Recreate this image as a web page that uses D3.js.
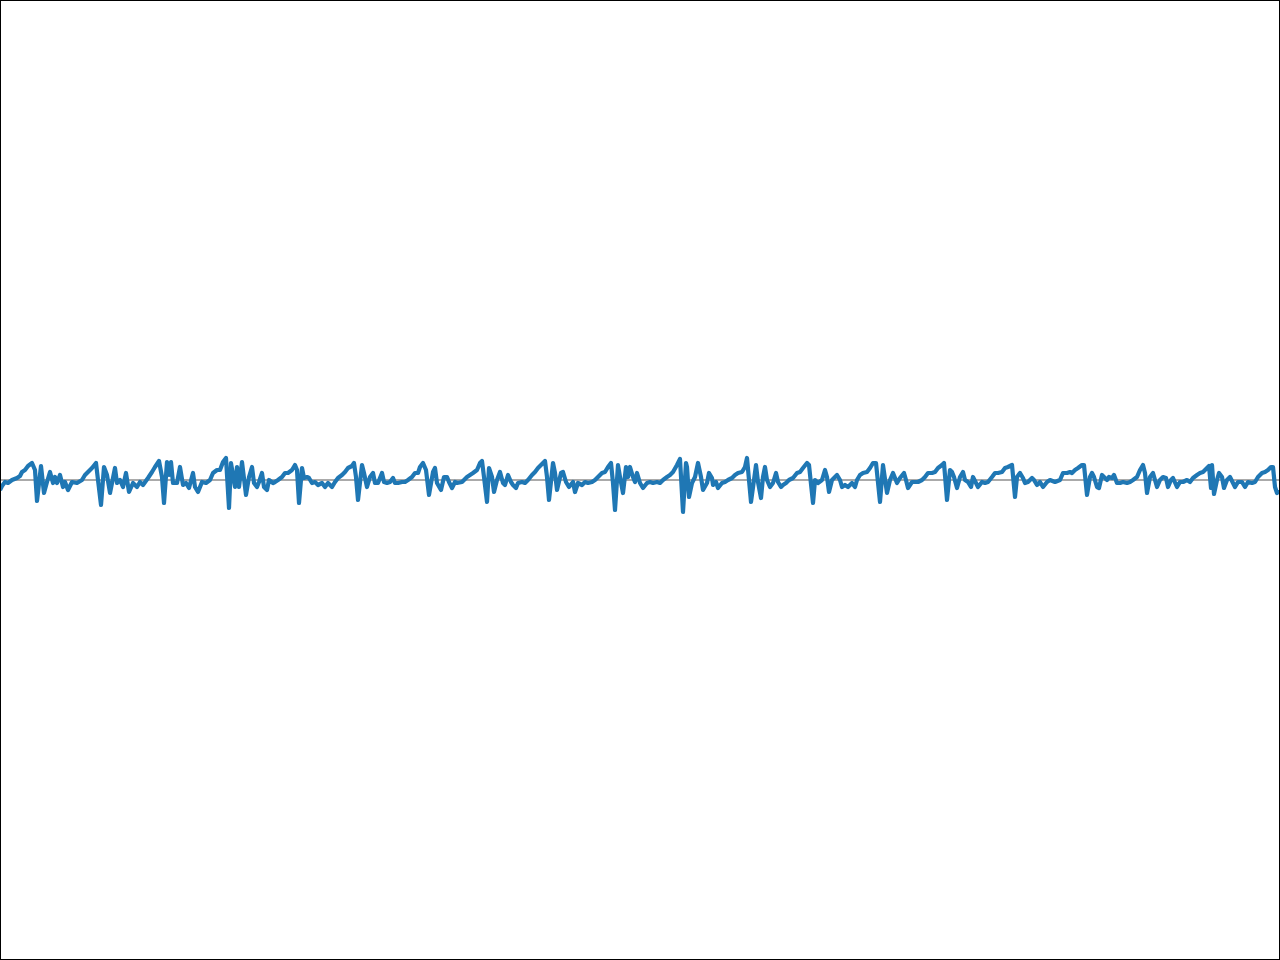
<!DOCTYPE html>
<html>
<head>
<meta charset="utf-8">
<script src="https://cdn.jsdelivr.net/npm/d3@7"></script>
<style>
html,body{margin:0;padding:0;background:#fff;}
svg{display:block;}
</style>
</head>
<body>
<script>
// sample positions (time index) and amplitudes
const seg1 = [[0,-10],[2,-6],[5,-2],[8,-3],[12,0],[17,2],[20,4],[22,8],[25,10],[28,14],[32,17],[35,10],[37,-21],[41,14],[44,-13],[47,-2],[50,8],[53,-3],[55,3],[57,-3],[60,5],[63,-7],[65,-2],[68,-10],[72,-2],[77,-3],[82,0],[85,5],[88,8],[92,12],[96,17],[98,0],[101,-25],[104,13],[107,5],[110,-13],[115,12],[117,-3],[120,0],[123,-7],[126,7],[129,-12],[133,-3],[137,-7],[140,-2],[143,-5],[148,2],[152,8],[155,13],[159,19],[162,3],[164,-23],[167,18],[169,5],[171,18],[173,-3],[177,-3],[180,13],[183,-5],[186,-3],[189,-8],[193,7],[195,-7],[198,-12],[202,-2],[206,-3]];
const seg2 = [[210,0],[213,7],[217,10],[220,10],[223,18],[226,22],[229,-28],[231,17],[235,-7],[237,13],[239,-7],[242,18],[246,-15],[249,3],[252,13],[254,-3],[257,-7],[259,-2],[262,7],[264,-7],[267,-10],[269,0],[273,-3],[275,-2],[278,0],[282,3],[285,7],[288,7],[292,10],[295,15],[297,10],[299,-23],[302,12],[304,2],[307,3],[309,2],[312,-3],[315,-2],[318,-5],[322,-3],[325,-7],[328,-3],[332,-7],[335,-2],[338,2],[342,5],[345,8],[348,12],[352,14],[354,17],[356,3],[358,-20],[362,15],[364,7],[367,-7],[370,3],[373,7],[375,-3],[378,-3],[382,7],[384,-2],[387,-3],[390,-2],[393,2],[395,-3],[398,-3],[402,-2],[405,-2],[408,0],[412,3],[415,7],[418,7]];
const seg3 = [[420,13],[423,17],[426,10],[429,-15],[433,8],[435,12],[437,-3],[441,-10],[444,3],[447,3],[449,-2],[452,-8],[455,-2],[457,-3],[462,-2],[467,3],[470,5],[473,7],[477,10],[480,17],[482,19],[484,3],[487,-22],[489,12],[492,3],[494,-12],[497,0],[500,8],[503,-3],[505,-5],[508,5],[511,-2],[513,-5],[516,-8],[518,-3],[522,-2],[525,-3],[528,0],[532,5],[535,8],[538,12],[542,16],[545,19],[547,3],[549,-20],[553,17],[555,7],[557,-10],[561,7],[563,8],[566,-2],[569,-7],[573,-2],[575,-12],[578,-3],[582,-5],[585,-2],[588,-3],[592,-2],[595,0],[598,3],[602,7],[605,8],[608,13],[611,17],[613,-3],[615,-30],[618,15],[620,3],[623,-13],[626,13],[628,3]];
const seg4 = [[630,13],[633,3],[635,-2],[637,7],[640,-3],[643,-8],[647,-3],[650,-2],[653,-3],[657,-2],[660,-3],[663,0],[667,3],[670,5],[673,8],[677,15],[680,21],[683,-32],[686,17],[687,13],[689,-17],[692,-3],[695,3],[698,17],[701,3],[703,-10],[707,-3],[709,7],[712,2],[713,-5],[716,-2],[718,-8],[722,-3],[725,-2],[728,0],[732,2],[735,5],[738,7],[742,8],[745,13],[747,22],[751,-22],[754,0],[756,15],[758,-2],[761,-18],[763,3],[765,13],[767,0],[770,-7],[773,-3],[776,7],[778,-2],[781,-7],[783,-5],[786,-3],[789,0],[793,2],[797,7],[800,8],[803,12],[807,17],[809,15],[813,-23],[815,0],[818,-3],[822,0],[825,10],[827,3],[829,-12],[832,0],[835,3],[837,5]];
const seg5 = [[840,0],[842,-7],[845,-5],[848,-7],[852,-3],[855,-7],[857,0],[860,5],[863,7],[867,8],[870,12],[873,17],[876,17],[880,-22],[883,15],[887,-13],[890,0],[893,7],[895,2],[897,-3],[900,2],[904,7],[906,0],[908,-8],[912,-2],[915,-2],[918,-2],[922,0],[925,3],[928,7],[932,7],[935,8],[938,12],[942,15],[944,17],[947,-20],[950,10],[952,8],[954,3],[957,-8],[960,3],[963,8],[965,0],[968,-2],[971,-7],[973,3],[976,-3],[978,-7],[982,-2],[985,-3],[988,-2],[992,3],[995,7],[998,7],[1002,8],[1005,12],[1008,13],[1012,15],[1015,-17],[1017,3],[1020,7],[1023,2],[1025,-3],[1028,-2],[1032,2],[1034,0],[1037,-5],[1040,-2],[1043,-7],[1047,-2],[1050,0],[1055,-2]];
const seg6 = [[1060,0],[1063,7],[1067,7],[1070,8],[1072,7],[1075,10],[1078,12],[1082,15],[1084,15],[1087,-15],[1090,3],[1092,7],[1094,3],[1097,-7],[1099,-8],[1102,5],[1104,3],[1107,0],[1109,3],[1112,2],[1114,5],[1117,-3],[1120,-3],[1123,-2],[1127,-3],[1130,-2],[1133,0],[1137,3],[1140,10],[1143,15],[1145,7],[1147,-13],[1150,3],[1153,7],[1155,0],[1157,-7],[1160,0],[1163,3],[1166,2],[1168,-7],[1171,0],[1173,2],[1177,-7],[1180,-2],[1183,-2],[1187,0],[1190,-2],[1193,2],[1197,5],[1200,7],[1203,8],[1207,12],[1209,14],[1211,-8],[1212,15],[1214,-14],[1217,0],[1219,7],[1222,3],[1224,-8],[1227,0],[1230,3],[1233,-3],[1235,-7],[1238,-2],[1242,-2],[1245,-7],[1248,-2],[1252,-3],[1255,-2],[1258,3],[1262,7],[1265,8],[1268,10],[1271,13],[1273,13],[1275,-7],[1277,-13],[1279,-10]];
const baselineValue = 0;

const signal = [].concat(seg1, seg2, seg3, seg4, seg5, seg6).map(d => ({t: d[0], v: d[1]}));

const W = 1280, H = 960;
const x = d3.scaleLinear().domain([0, 1279]).range([0, 1279]);
const y = d3.scaleLinear().domain([-480, 480]).range([H, 0]);

const svg = d3.select("body").append("svg").attr("width", W).attr("height", H);

svg.append("line")
  .attr("x1", 0).attr("x2", W)
  .attr("y1", y(baselineValue)).attr("y2", y(baselineValue))
  .attr("stroke", "#aaaaaa").attr("stroke-width", 2);

svg.append("path")
  .datum(signal)
  .attr("fill", "none")
  .attr("stroke", "#1f77b4")
  .attr("stroke-width", 4.2)
  .attr("stroke-linejoin", "round")
  .attr("stroke-linecap", "butt")
  .attr("d", d3.line().x(d => x(d.t)).y(d => y(d.v)));

svg.append("rect")
  .attr("x", 0.5).attr("y", 0.5).attr("width", W - 1).attr("height", H - 1)
  .attr("fill", "none").attr("stroke", "#000").attr("stroke-width", 1);
</script>
</body>
</html>
